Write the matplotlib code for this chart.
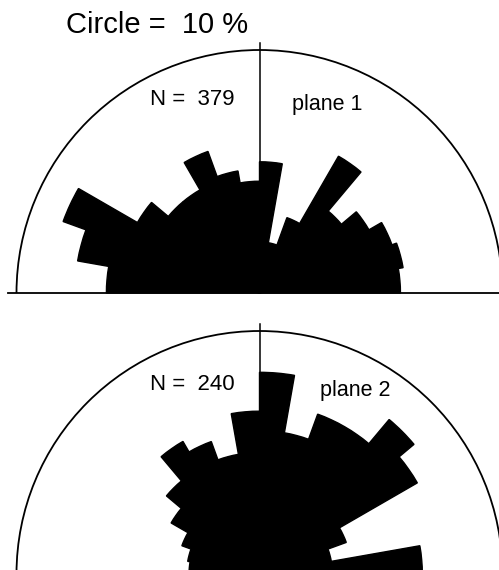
#!/usr/bin/env python
"""
half rose diagrams (0-180 degree) of the azimuth frequency for two planes.
each sector is 10 degrees wide, radius in percent, outer circle = 10 %
"""

import numpy as np
import matplotlib
matplotlib.use('Agg')
import matplotlib.pyplot as plt
from matplotlib.patches import Wedge, Arc

plt.rcParams['font.family'] = ['Liberation Sans', 'DejaVu Sans']

# sector edges, azimuth 270 -> 360/0 -> 90 (west to east), 10 degree bins
bin_width = 10
azimuth_start = 270

# frequency (%) of each bin, from west to east
plane1_freq = [6.3, 7.6, 8.6, 5.8, 4.9, 4.9, 6.2, 5.1, 4.6,
               5.4, 2.1, 3.3, 6.5, 4.4, 5.2, 5.8, 6.0, 5.8]
plane2_freq = [2.9, 3.0, 3.4, 4.2, 5.0, 6.3, 5.8, 5.0, 6.7,
               8.3, 5.9, 7.0, 7.0, 8.3, 7.5, 3.8, 3.0, 6.7]

plane_names = ['plane 1', 'plane 2']
plane_counts = [379, 240]
circle_percent = 10

# layout, in pixels of the output image
fig_w, fig_h = 499, 570
px_per_unit = 24.3
center_px_x = 259.5
center_px_y = [293, 574]


def to_data(x_px, y_px):
    return (x_px - center_px_x) / px_per_unit, (center_px_y[0] - y_px) / px_per_unit


def draw_half_rose(ax, freq, cy, count, name, label_y_px, with_base=True):
    # bars: bin i covers math angle [180-10*(i+1), 180-10*i]
    for i, value in enumerate(freq):
        theta2 = 180 - bin_width * i
        theta1 = theta2 - bin_width
        # the stroke hides the antialiasing seams between neighbour sectors
        ax.add_patch(Wedge((0, cy), value, theta1, theta2,
                           facecolor='black', edgecolor='black', lw=1.0,
                           joinstyle='miter'))

    # outer reference circle
    ax.add_patch(Arc((0, cy), 2 * circle_percent, 2 * circle_percent,
                     theta1=0, theta2=180, color='black', lw=1.3))
    # north line
    ax.plot([0, 0], [cy, cy + circle_percent * 1.03], color='black', lw=1.1)
    if with_base:
        x0, _ = to_data(8, 0)
        x1, _ = to_data(fig_w, 0)
        ax.plot([x0, x1], [cy, cy], color='black', lw=1.3)

    nx, ny = to_data(150, label_y_px[0])
    ax.text(nx, ny, 'N =  %d' % count, fontsize=16, ha='left', va='baseline')
    px, py = to_data(label_y_px[2], label_y_px[1])
    ax.text(px, py, name, fontsize=15.5, ha='left', va='baseline')


fig = plt.figure(figsize=(fig_w / 100.0, fig_h / 100.0), dpi=100)
ax = fig.add_axes([0, 0, 1, 1])
xmin, ytop = to_data(0, 0)
xmax, ybot = to_data(fig_w, fig_h)
ax.set_xlim(xmin, xmax)
ax.set_ylim(ybot, ytop)
ax.axis('off')

cy1 = 0.0
cy2 = (center_px_y[0] - center_px_y[1]) / px_per_unit
draw_half_rose(ax, plane1_freq, cy1, plane_counts[0], plane_names[0], (105, 110, 292))
draw_half_rose(ax, plane2_freq, cy2, plane_counts[1], plane_names[1], (390, 396, 320),
               with_base=False)

tx, ty = to_data(66, 33)
ax.text(tx, ty, 'Circle =  %d %%' % circle_percent, fontsize=21, ha='left', va='baseline')

fig.savefig('out.png', dpi=100)
